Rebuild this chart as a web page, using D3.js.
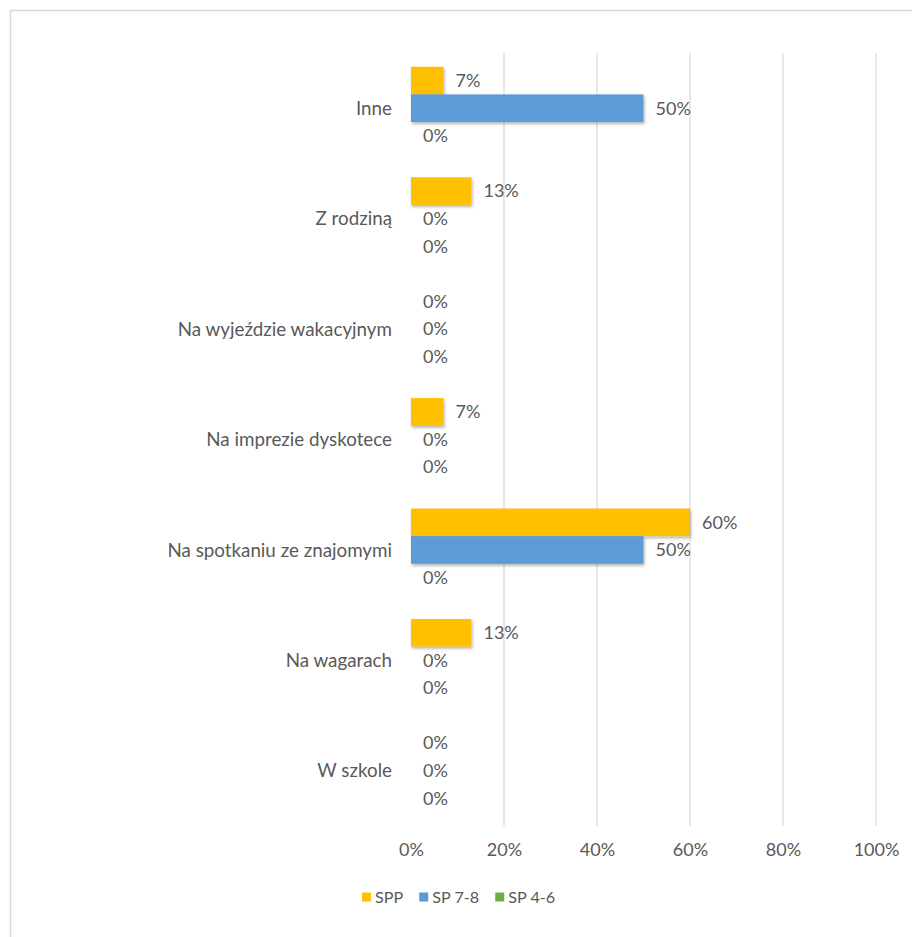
<!DOCTYPE html>
<html>
<head>
<meta charset="utf-8">
<script src="https://cdn.jsdelivr.net/npm/d3@7"></script>
<style>
  html, body { margin: 0; padding: 0; background: #fff; }
  svg { display: block; }
  text { font-family: Lato, "Open Sans", sans-serif; fill: #595959; }
</style>
</head>
<body>
<svg id="chart" width="912" height="937"></svg>
<script>
// Categories, top to bottom
const categories = [
  "Inne",
  "Z rodziną",
  "Na wyjeździe wakacyjnym",
  "Na imprezie dyskotece",
  "Na spotkaniu ze znajomymi",
  "Na wagarach",
  "W szkole"
];

// Series names and values (%)
const seriesNames = ["SPP", "SP 7-8", "SP 4-6"];
const spp  = [7, 13, 0, 7, 60, 13, 0];
const sp78 = [50, 0, 0, 0, 50, 0, 0];
const sp46 = [0, 0, 0, 0, 0, 0, 0];
const seriesColors = ["#FFC000", "#5B9BD5", "#70AD47"];

// Axis ticks
const tickValues = [0, 20, 40, 60, 80, 100];

const seriesValues = [spp, sp78, sp46];
const rows = categories.map((c, i) => ({
  category: c,
  values: seriesNames.map((s, j) => ({ series: s, value: seriesValues[j][i], color: seriesColors[j] }))
}));

const svg = d3.select("#chart");
const FONT = 18;        // value and axis labels
const CAT_FONT = 18.8;  // category labels
const LEG_FONT = 16.2;  // legend entries

// Chart area outline
svg.append("rect")
  .attr("x", 10.5).attr("y", 10.5)
  .attr("width", 920).attr("height", 940)
  .attr("fill", "none")
  .attr("stroke", "#D9D9D9")
  .attr("stroke-width", 1.5);

// Soft shadow under bars
const defs = svg.append("defs");
const f = defs.append("filter").attr("id", "barShadow")
  .attr("x", "-5%").attr("y", "-20%").attr("width", "115%").attr("height", "160%");
f.append("feDropShadow")
  .attr("dx", 1).attr("dy", 2).attr("stdDeviation", 1.5)
  .attr("flood-color", "#000").attr("flood-opacity", 0.3);

const x = d3.scaleLinear().domain([0, 100]).range([411, 876]);
const y0 = d3.scaleBand().domain(categories).range([53, 826]);
const y1 = d3.scaleBand().domain(seriesNames).range([0, y0.bandwidth()]).paddingOuter(0.5);

// Vertical gridlines (skip the zero line)
svg.append("g").selectAll("line")
  .data(tickValues.filter(t => t > 0))
  .join("line")
  .attr("x1", d => x(d)).attr("x2", d => x(d))
  .attr("y1", 53).attr("y2", 826)
  .attr("stroke", "#D9D9D9")
  .attr("stroke-width", 1.2);

// Bottom axis labels
const xAxis = d3.axisBottom(x)
  .tickValues(tickValues)
  .tickFormat(d => d + "%")
  .tickSize(0)
  .tickPadding(0);
const gx = svg.append("g").attr("transform", "translate(0,842)").call(xAxis);
gx.select(".domain").remove();
gx.selectAll("text")
  .attr("dy", "0.75em")
  .style("font-size", FONT + "px")
  .style("font-family", "Lato, 'Open Sans', sans-serif")
  .attr("fill", "#595959");

// Category labels
const yAxis = d3.axisLeft(y0).tickSize(0).tickPadding(0);
const gy = svg.append("g").attr("transform", "translate(392,0)").call(yAxis);
gy.select(".domain").remove();
gy.selectAll("text")
  .attr("dy", "0.35em")
  .style("font-size", CAT_FONT + "px")
  .style("font-family", "Lato, 'Open Sans', sans-serif")
  .attr("fill", "#595959");

// Bars and value labels
const groups = svg.append("g").selectAll("g")
  .data(rows)
  .join("g")
  .attr("transform", d => `translate(0,${y0(d.category)})`);

groups.selectAll("rect")
  .data(d => d.values.filter(v => v.value > 0))
  .join("rect")
  .attr("x", x(0))
  .attr("y", v => y1(v.series))
  .attr("width", v => x(v.value) - x(0))
  .attr("height", y1.bandwidth())
  .attr("fill", v => v.color)
  .attr("filter", "url(#barShadow)");

groups.selectAll("text")
  .data(d => d.values)
  .join("text")
  .attr("x", v => x(v.value) + 12)
  .attr("y", v => y1(v.series) + y1.bandwidth() / 2)
  .attr("dy", "0.35em")
  .style("font-size", FONT + "px")
  .text(v => v.value + "%");

// Legend
const legend = svg.append("g").attr("transform", "translate(362,897)");
let lx = 0;
seriesNames.forEach((s, i) => {
  const item = legend.append("g").attr("transform", `translate(${lx},0)`);
  item.append("rect")
    .attr("x", 0).attr("y", -4.5)
    .attr("width", 9).attr("height", 9)
    .attr("fill", seriesColors[i]);
  const t = item.append("text")
    .attr("x", 13).attr("y", 0).attr("dy", "0.35em")
    .style("font-size", LEG_FONT + "px")
    .text(s);
  lx += 13 + t.node().getComputedTextLength() + 16;
});
</script>
</body>
</html>
